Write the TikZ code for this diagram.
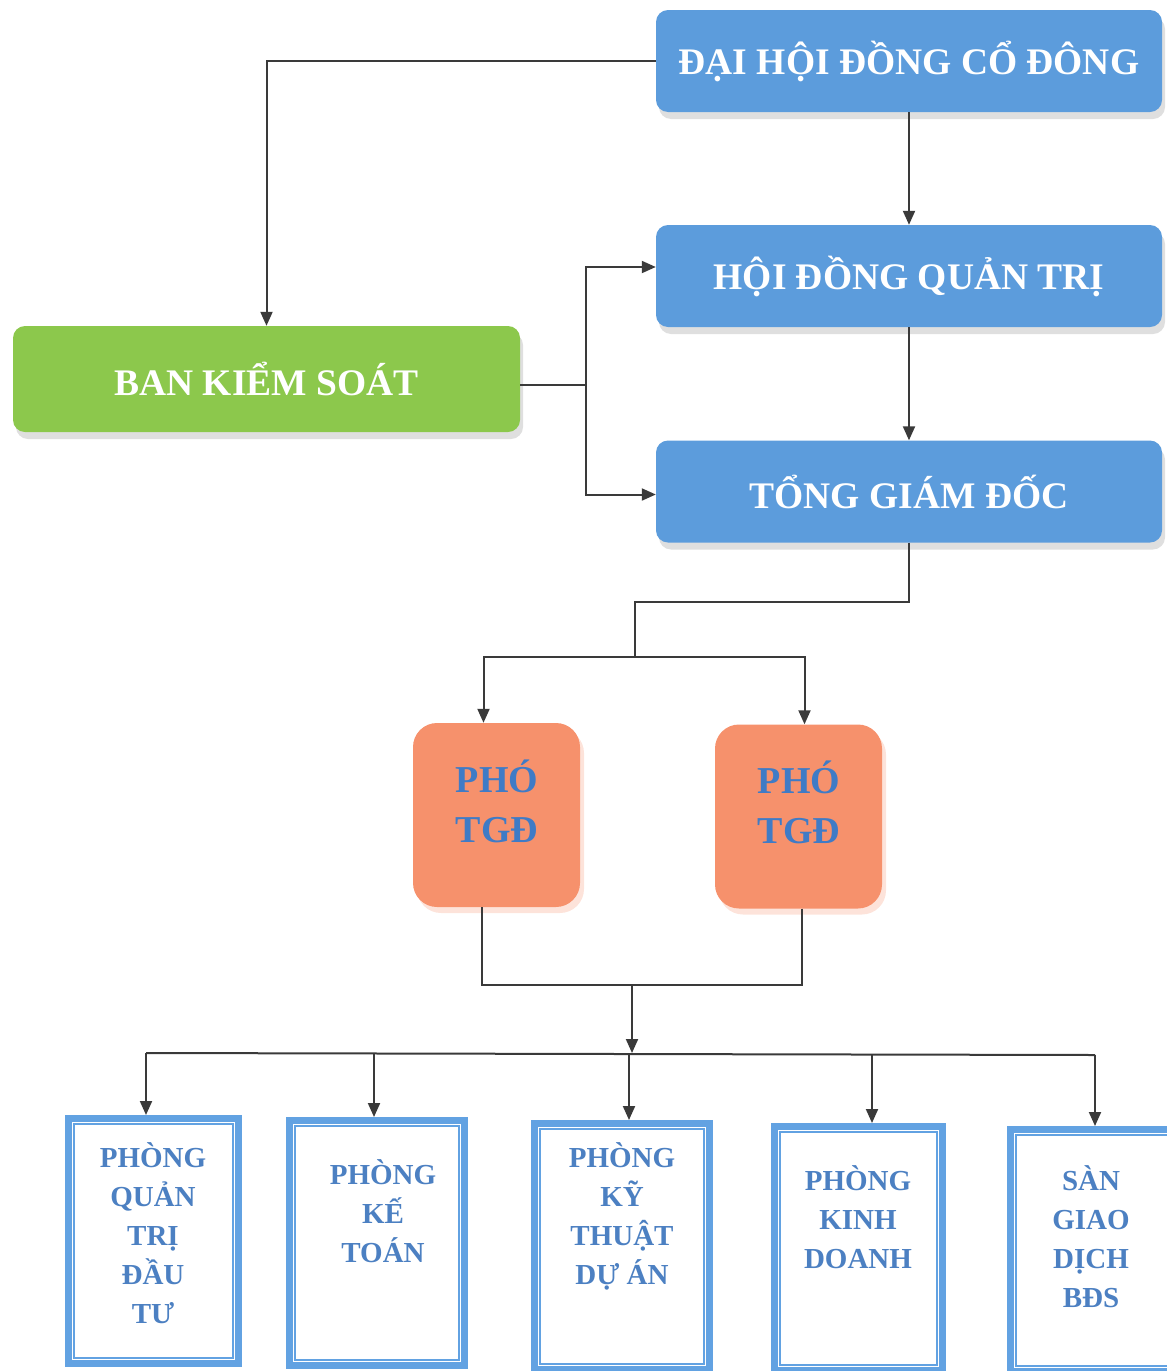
\documentclass[tikz,border=0pt]{standalone}
\usepackage{fontspec}
\setmainfont{Liberation Serif}
\usetikzlibrary{arrows.meta,shadows,calc}
\definecolor{boxblue}{HTML}{5C9CDC}
\definecolor{boxgreen}{HTML}{8CC84C}
\definecolor{boxorange}{HTML}{F6916C}
\definecolor{txtblue}{HTML}{3F7BC6}
\definecolor{deptblue}{HTML}{4C80C2}
\definecolor{frameblue}{HTML}{62A2E2}
\definecolor{linegray}{HTML}{3A3A3A}
\tikzset{
  topbox/.style={fill=boxblue, rounded corners=12pt, minimum width=506pt, minimum height=102pt,
    inner sep=0pt, text=white, font=\bfseries\fontsize{37.5}{44}\selectfont,
    drop shadow={shadow xshift=3pt, shadow yshift=-7pt, opacity=0.25, fill=gray}},
  greenbox/.style={topbox, fill=boxgreen},
  phobox/.style={fill=boxorange, rounded corners=24pt, minimum width=167pt, minimum height=184pt,
    inner sep=0pt,
    drop shadow={shadow xshift=4pt, shadow yshift=-6pt, opacity=0.25, fill=boxorange}},
  photext/.style={text=txtblue, align=center, inner sep=0pt, font=\bfseries\fontsize{38}{50}\selectfont},
  deptbox/.style={draw=frameblue, line width=7pt, fill=white, inner sep=0pt},
  depttext/.style={text=deptblue, align=center, font=\bfseries\fontsize{29}{39}\selectfont, inner sep=0pt},
  conn/.style={draw=linegray, line width=2pt, -{Triangle[length=14pt,width=12pt]}},
  plainline/.style={draw=linegray, line width=2pt}
}
\newcommand{\innerframe}[1]{\draw[frameblue, line width=2pt] ([shift={(9,9)}]#1.north west) rectangle ([shift={(-9,-9)}]#1.south east);}
\begin{document}
\begin{tikzpicture}[x=1pt,y=-1pt]
\useasboundingbox (0,0) rectangle (1167,1371);
% top boxes
\node[topbox] (dhd) at (909,61) {ĐẠI HỘI ĐỒNG CỔ ĐÔNG};
\node[topbox] (hdqt) at (909,276) {HỘI ĐỒNG QUẢN TRỊ};
\node[topbox] (tgd) at (909,491.5) {TỔNG GIÁM ĐỐC};
\node[greenbox, minimum width=507pt, minimum height=106pt] (bks) at (266.5,379) {BAN KIỂM SOÁT};
% deputies
\node[phobox] (p1) at (496.5,815) {};
\node[phobox] (p2) at (798.5,816.5) {};
\node[photext] (pt1) at (497,801) {PHÓ\\TGĐ};
\node[photext] (pt2) at (799,802) {PHÓ\\TGĐ};
% departments
\node[deptbox, minimum width=170pt, minimum height=245pt] (b1) at (153.5,1241) {};
\node[deptbox, minimum width=175pt, minimum height=245pt] (b2) at (377,1243) {};
\node[deptbox, minimum width=175pt, minimum height=246pt] (b3) at (622,1246.5) {};
\node[deptbox, minimum width=168pt, minimum height=244pt] (b4) at (858.5,1248.5) {};
\node[deptbox, minimum width=164pt, minimum height=242pt] (b5) at (1092,1250.5) {};
\innerframe{b1}\innerframe{b2}\innerframe{b3}\innerframe{b4}\innerframe{b5}
\node[depttext] (t1) at (153,1233) {PHÒNG\\QUẢN\\TRỊ\\ĐẦU\\TƯ};
\node[depttext] (t2) at (383,1211) {PHÒNG\\KẾ\\TOÁN};
\node[depttext] (t3) at (622,1216.5) {PHÒNG\\KỸ\\THUẬT\\DỰ ÁN};
\node[depttext] (t4) at (858,1217) {PHÒNG\\KINH\\DOANH};
\node[depttext] (t5) at (1091,1236.5) {SÀN\\GIAO\\DỊCH\\BĐS};
% connectors top
\draw[conn] (dhd.west) -| (bks.north);
\draw[conn] (dhd.south) -- (hdqt.north);
\draw[conn] (hdqt.south) -- (tgd.north);
\coordinate (k1) at (586,385);
\draw[plainline] ([yshift=-6pt]bks.east) -- (k1);
\draw[conn] (k1) |- ([yshift=9pt]hdqt.west);
\draw[conn] (k1) |- ([yshift=-3pt]tgd.west);
% tgd to deputies
\coordinate (j1) at (635,602);
\coordinate (j2) at (635,657);
\draw[plainline] (tgd.south) |- (j1) -- (j2);
\draw[conn] (j2) -| ([xshift=-13pt]p1.north);
\draw[conn] (j2) -| ([xshift=6pt]p2.north);
% deputies to departments
\coordinate (j3) at (632,985);
\coordinate (j4) at (632,1053);
\draw[plainline] ([xshift=-15pt]p1.south) |- (j3);
\draw[plainline] ([xshift=3pt]p2.south) |- (j3);
\draw[conn] (j3) -- (j4);
\coordinate (hl) at (146,1053);
\coordinate (hr) at (1095,1055);
\draw[plainline] (hl) -- (hr);
\coordinate (a2) at (374,1054);
\coordinate (a3) at (629,1054);
\coordinate (a4) at (872,1055);
\draw[conn] (hl) -- (hl |- b1.north);
\draw[conn] (a2) -- (a2 |- b2.north);
\draw[conn] (a3) -- (a3 |- b3.north);
\draw[conn] (a4) -- (a4 |- b4.north);
\draw[conn] (hr) -- (hr |- b5.north);
\end{tikzpicture}
\end{document}
